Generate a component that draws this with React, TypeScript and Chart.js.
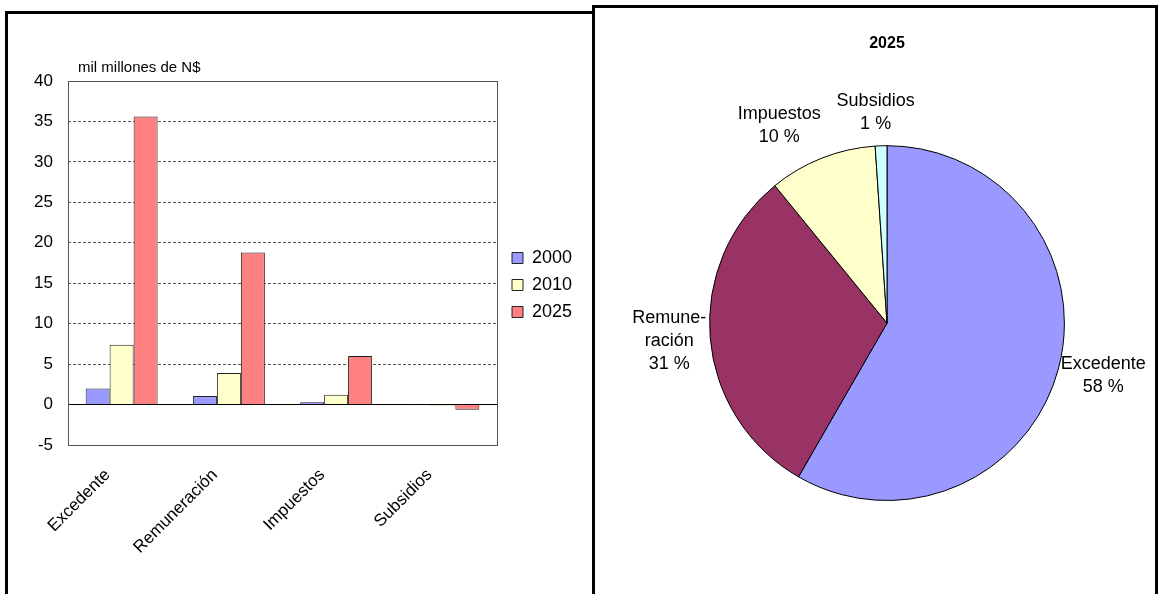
import React, { useEffect, useRef } from "react";
import { Chart, registerables } from "chart.js";

Chart.register(...registerables);

// ---------- data ----------
const categories = ["Excedente", "Remuneración", "Impuestos", "Subsidios"];
const seriesNames = ["2000", "2010", "2025"];
const values2000 = [2.0, 1.05, 0.3, -0.08];
const values2010 = [7.4, 3.9, 1.2, -0.15];
const values2025 = [35.6, 18.8, 6.0, -0.65];
const yMin = -5;
const yMax = 40;
const yStep = 5;
const unitLabel = "mil millones de N$";

const pieTitle = "2025";
const pieLabelLines = [["Excedente"], ["Remune-", "ración"], ["Impuestos"], ["Subsidios"]];
const pieValues = values2025.map((v) => Math.abs(v));

// ---------- styles ----------
const FONT = "'Liberation Sans', Arial, Helvetica, sans-serif";
const barColors = ["#9999FF", "#FFFFCC", "#FF8080"];
const pieColors = ["#9999FF", "#993366", "#FFFFCC", "#CCFFFF"];
const pieLabelNudge = [
  [0, 0],
  [0, 0],
  [-26, -7],
  [-4, -6],
];

const plotFramePlugin = {
  id: "plotFrame",
  beforeDatasetsDraw(chart: any) {
    const { ctx, chartArea } = chart;
    ctx.save();
    ctx.strokeStyle = "#555";
    ctx.lineWidth = 1;
    ctx.strokeRect(
      Math.round(chartArea.left) + 0.5,
      Math.round(chartArea.top) + 0.5,
      Math.round(chartArea.right - chartArea.left),
      Math.round(chartArea.bottom - chartArea.top)
    );
    ctx.restore();
  },
  afterDraw(chart: any) {
    const { ctx, chartArea } = chart;
    ctx.save();
    ctx.font = `15px ${FONT}`;
    ctx.fillStyle = "#000";
    ctx.textAlign = "left";
    ctx.textBaseline = "middle";
    ctx.fillText(unitLabel, chartArea.left + 10, chartArea.top - 13);
    ctx.restore();
  },
  afterLayout(chart: any) {
    const lg = chart.legend;
    if (!lg) return;
    const ca = chart.chartArea;
    lg.left = ca.right + 6;
    lg.right = chart.width;
    lg.top = 226;
    lg.bottom = chart.height;
  },
};

const pieLabelPlugin = {
  id: "pieLabels",
  afterDatasetsDraw(chart: any) {
    const { ctx } = chart;
    const meta = chart.getDatasetMeta(0);
    const data = chart.data.datasets[0].data as number[];
    const total = data.reduce((a, b) => a + b, 0);
    const LH = 23;
    const gap = 4;
    ctx.save();
    ctx.font = `18px ${FONT}`;
    ctx.fillStyle = "#000";
    ctx.textAlign = "center";
    ctx.textBaseline = "middle";
    meta.data.forEach((arc: any, i: number) => {
      const { x, y, startAngle, endAngle, outerRadius } = arc.getProps(
        ["x", "y", "startAngle", "endAngle", "outerRadius"],
        true
      );
      const mid = (startAngle + endAngle) / 2;
      const dx = Math.cos(mid);
      const dy = Math.sin(mid);
      const lines = [...pieLabelLines[i], Math.round((data[i] / total) * 100) + " %"];
      const w = Math.max(...lines.map((l) => ctx.measureText(l).width));
      const h = lines.length * LH;
      const cx = x + dx * (outerRadius + gap) + (dx * w) / 2 + pieLabelNudge[i][0];
      const cy = y + dy * (outerRadius + gap) + (dy * h) / 2 + pieLabelNudge[i][1];
      lines.forEach((l, k) => ctx.fillText(l, cx, cy - h / 2 + LH / 2 + k * LH));
    });
    ctx.restore();
  },
};

export default function App() {
  const barRef = useRef<HTMLCanvasElement>(null);
  const pieRef = useRef<HTMLCanvasElement>(null);

  useEffect(() => {
    const seriesValues = [values2000, values2010, values2025];
    const bar = new Chart(barRef.current as HTMLCanvasElement, {
      type: "bar",
      data: {
        labels: categories,
        datasets: seriesNames.map((name, i) => ({
          label: name,
          data: seriesValues[i],
          backgroundColor: barColors[i],
          borderColor: "#222",
          borderWidth: 1,
          categoryPercentage: 0.671,
          barPercentage: 1,
        })),
      },
      options: {
        responsive: false,
        animation: false,
        layout: { padding: { left: 0, top: 67, right: 94, bottom: 0 } },
        plugins: {
          tooltip: { enabled: false },
          legend: {
            position: "chartArea",
            align: "start",
            labels: {
              boxWidth: 11,
              boxHeight: 11,
              padding: 9,
              color: "#000",
              font: { family: FONT, size: 18 },
            },
          },
        },
        scales: {
          x: {
            grid: { display: false },
            border: { display: false },
            ticks: {
              minRotation: 45,
              maxRotation: 45,
              padding: 12,
              labelOffset: -14,
              color: "#000",
              font: { family: FONT, size: 17 },
            },
            afterFit: (s: any) => {
              s.height = 149;
            },
          },
          y: {
            min: yMin,
            max: yMax,
            ticks: {
              stepSize: yStep,
              padding: 15,
              color: "#000",
              font: { family: FONT, size: 17 },
            },
            grid: {
              drawTicks: false,
              lineWidth: 1,
              color: (c: any) => (c.tick && c.tick.value === 0 ? "#000" : "#555"),
            },
            border: {
              display: false,
              dash: (c: any) =>
                c.tick && [yMin, 0, yMax].includes(c.tick.value) ? [] : [3, 2],
            },
            afterFit: (s: any) => {
              s.width = 60;
            },
          },
        },
      } as any,
      plugins: [plotFramePlugin],
    });

    const pie = new Chart(pieRef.current as HTMLCanvasElement, {
      type: "pie",
      data: {
        labels: categories,
        datasets: [
          {
            data: pieValues,
            backgroundColor: pieColors,
            borderColor: "#000",
            borderWidth: 1,
          },
        ],
      },
      options: {
        responsive: false,
        animation: false,
        layout: { padding: { left: 114, right: 90, top: 0, bottom: 93 } },
        plugins: {
          legend: { display: false },
          tooltip: { enabled: false },
          title: {
            display: true,
            text: pieTitle,
            color: "#000",
            font: { family: FONT, size: 16, weight: "bold" },
            padding: { top: 26, bottom: 92 },
          },
        },
      } as any,
      plugins: [pieLabelPlugin],
    });

    return () => {
      bar.destroy();
      pie.destroy();
    };
  }, []);

  return (
    <div
      style={{
        position: "fixed",
        left: 0,
        top: 0,
        width: 1158,
        height: 594,
        overflow: "hidden",
        background: "#fff",
      }}
    >
      <div
        style={{
          position: "absolute",
          left: 5,
          top: 11,
          width: 590,
          height: 640,
          border: "3px solid #000",
          boxSizing: "border-box",
        }}
      />
      <div
        style={{
          position: "absolute",
          left: 592,
          top: 5,
          width: 566,
          height: 640,
          border: "3px solid #000",
          boxSizing: "border-box",
        }}
      />
      <canvas
        ref={barRef}
        width={583}
        height={580}
        style={{ position: "absolute", left: 8, top: 14, width: 583, height: 580, display: "block" }}
      />
      <canvas
        ref={pieRef}
        width={560}
        height={586}
        style={{ position: "absolute", left: 595, top: 8, width: 560, height: 586, display: "block" }}
      />
    </div>
  );
}
